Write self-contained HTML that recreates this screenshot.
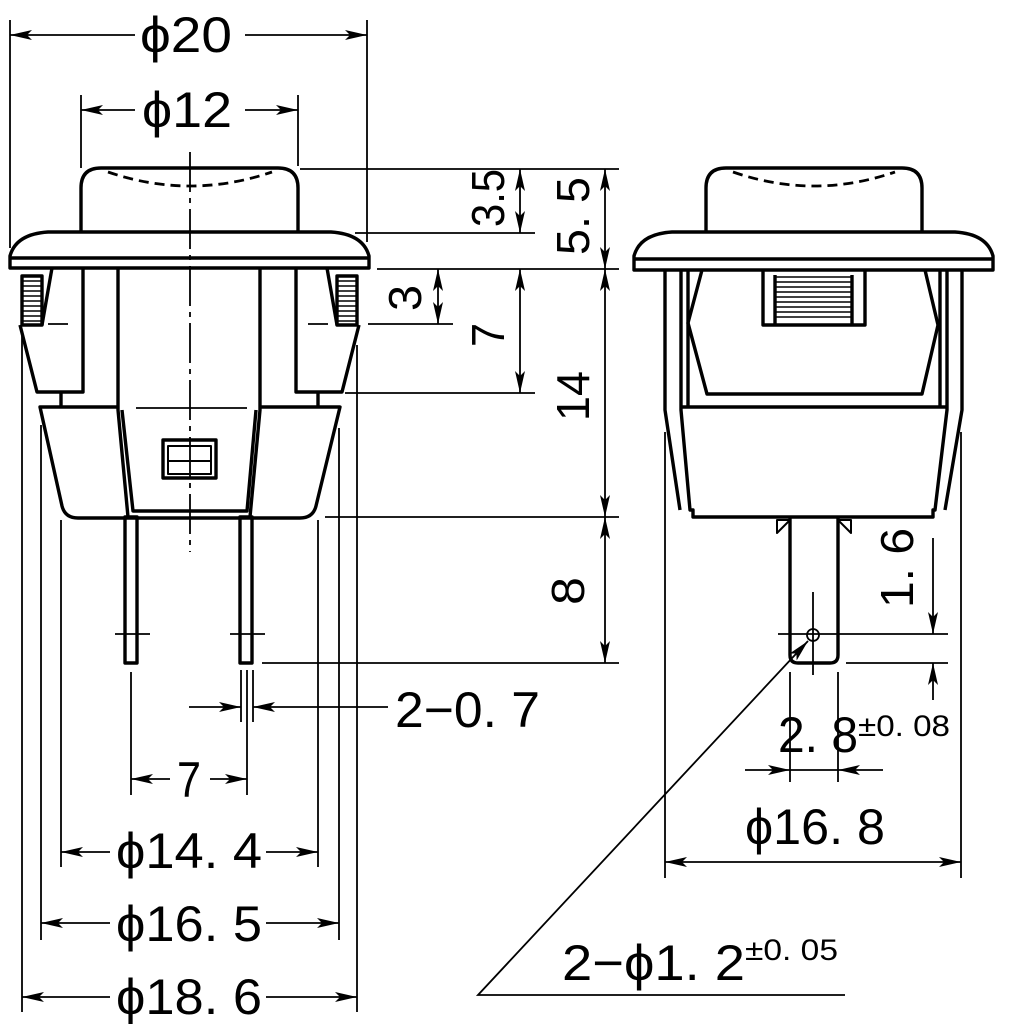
<!DOCTYPE html>
<html><head><meta charset="utf-8"><style>
html,body{margin:0;padding:0;background:#fff}
svg{display:block}
text{font-family:"Liberation Sans",sans-serif;fill:#000}
</style></head><body>
<svg width="1009" height="1024" viewBox="0 0 1009 1024" xmlns="http://www.w3.org/2000/svg">
<defs>
<marker id="a" markerUnits="userSpaceOnUse" markerWidth="24" markerHeight="12" refX="22" refY="5" orient="auto-start-reverse"><path d="M0,0 L22,5 L0,10 L5,5 Z" fill="#000"/></marker>
</defs>
<g fill="none" stroke="#000" stroke-width="3.4" stroke-linejoin="round">
<path d="M81,232 V188 Q81,168 101,168 H278 Q298,168 298,188 V232"/>
<path d="M108,172 Q190,200 272,172" stroke-dasharray="10,6" stroke-width="2.8"/>
<path d="M10,268 V256 Q16,234 48,232 H331 Q363,234 369,256 V268 Z"/>
<line x1="10" y1="258" x2="369" y2="258"/>
<rect x="22" y="276" width="20" height="49"/>
<line x1="52" y1="268" x2="42" y2="325"/>
<polyline points="20,325 37,392 83,392 83,268"/>
<line x1="61" y1="392" x2="61" y2="407"/>
<rect x="337" y="276" width="20" height="49"/>
<line x1="327" y1="268" x2="337" y2="325"/>
<polyline points="359,325 342,392 296,392 296,268"/>
<line x1="318" y1="392" x2="318" y2="407"/>
<polyline points="118,268 118,410 128,517"/>
<polyline points="122,410 133,511 247,511 256,410"/>
<polyline points="260,268 260,410 250,517"/>
<path d="M118,407 H40 L62,506 Q65,518 78,518 H300 Q313,518 316,506 L340,407 H260"/>
<rect x="163" y="440" width="53" height="38"/>
<rect x="168" y="446" width="43" height="28" stroke-width="2"/>
<line x1="168" y1="461" x2="211" y2="461" stroke-width="2"/>
<rect x="125" y="517" width="12" height="146"/>
<rect x="240" y="517" width="12" height="146"/>
<path d="M706,232 V188 Q706,168 726,168 H902 Q922,168 922,188 V232"/>
<path d="M733,172 Q814,200 895,172" stroke-dasharray="10,6" stroke-width="2.8"/>
<path d="M634,270 V256 Q640,234 672,232 H955 Q987,234 993,256 V270 Z"/>
<line x1="634" y1="259" x2="993" y2="259"/>
<polyline points="665,270 665,410 680,510"/>
<polyline points="681,270 681,410 690,510 693,510 693,517 933,517 933,510 935,510 947,410 947,270"/>
<line x1="688" y1="270" x2="688" y2="407"/>
<line x1="940" y1="270" x2="940" y2="407"/>
<polyline points="962,270 962,410 945,510"/>
<line x1="681" y1="407" x2="947" y2="407"/>
<polyline points="702,270 688,323 707,394 922,394 938,325 925,270"/>
<polyline points="763,270 763,325 865,325 865,270"/>
<line x1="775" y1="275" x2="775" y2="325"/>
<line x1="852" y1="275" x2="852" y2="325"/>
<path d="M790,517 V655 Q790,663 798,663 H830 Q838,663 838,655 V517"/>
<path d="M777,520 L790,520 L777,533 Z M851,520 L838,520 L851,533 Z" stroke-width="2"/>
</g>
<g stroke="#000" stroke-width="1.6">
<line x1="22" y1="281" x2="42" y2="281"/><line x1="22" y1="286" x2="42" y2="286"/><line x1="22" y1="291" x2="42" y2="291"/><line x1="22" y1="296" x2="42" y2="296"/><line x1="22" y1="301" x2="42" y2="301"/><line x1="22" y1="306" x2="42" y2="306"/><line x1="22" y1="311" x2="42" y2="311"/><line x1="22" y1="316" x2="42" y2="316"/><line x1="22" y1="321" x2="42" y2="321"/>
<line x1="337" y1="281" x2="357" y2="281"/><line x1="337" y1="286" x2="357" y2="286"/><line x1="337" y1="291" x2="357" y2="291"/><line x1="337" y1="296" x2="357" y2="296"/><line x1="337" y1="301" x2="357" y2="301"/><line x1="337" y1="306" x2="357" y2="306"/><line x1="337" y1="311" x2="357" y2="311"/><line x1="337" y1="316" x2="357" y2="316"/><line x1="337" y1="321" x2="357" y2="321"/>
<line x1="775" y1="277" x2="852" y2="277"/><line x1="775" y1="282" x2="852" y2="282"/><line x1="775" y1="287" x2="852" y2="287"/><line x1="775" y1="292" x2="852" y2="292"/><line x1="775" y1="297" x2="852" y2="297"/><line x1="775" y1="302" x2="852" y2="302"/><line x1="775" y1="307" x2="852" y2="307"/><line x1="775" y1="312" x2="852" y2="312"/><line x1="775" y1="317" x2="852" y2="317"/>
</g>
<g fill="none" stroke="#000" stroke-width="1.8">
<line x1="190" y1="152" x2="190" y2="552" stroke-dasharray="40,6,5,6"/>
<line x1="136" y1="408" x2="247" y2="408"/>
<line x1="48" y1="324" x2="68" y2="324"/><line x1="308" y1="324" x2="328" y2="324"/>
<line x1="115" y1="634" x2="150" y2="634"/><line x1="230" y1="634" x2="265" y2="634"/>
<line x1="10" y1="20" x2="10" y2="248"/><line x1="367" y1="20" x2="367" y2="242"/>
<line x1="81" y1="95" x2="81" y2="168"/><line x1="298" y1="95" x2="298" y2="166"/>
<line x1="300" y1="169" x2="619" y2="169"/>
<line x1="355" y1="233" x2="535" y2="233"/>
<line x1="377" y1="269" x2="619" y2="269"/>
<line x1="368" y1="324" x2="453" y2="324"/>
<line x1="345" y1="393" x2="535" y2="393"/>
<line x1="325" y1="517" x2="619" y2="517"/>
<line x1="262" y1="663" x2="619" y2="663"/>
<line x1="22" y1="335" x2="22" y2="1012"/><line x1="357" y1="345" x2="357" y2="1012"/>
<line x1="41" y1="425" x2="41" y2="940"/><line x1="339" y1="428" x2="339" y2="940"/>
<line x1="61" y1="520" x2="61" y2="867"/><line x1="318" y1="520" x2="318" y2="867"/>
<line x1="131" y1="672" x2="131" y2="795"/>
<line x1="241" y1="670" x2="241" y2="722"/><line x1="247" y1="670" x2="247" y2="795"/><line x1="253" y1="670" x2="253" y2="722"/>
<line x1="135" y1="35" x2="10" y2="35" marker-end="url(#a)"/><line x1="245" y1="35" x2="367" y2="35" marker-end="url(#a)"/>
<line x1="135" y1="110" x2="81" y2="110" marker-end="url(#a)"/><line x1="245" y1="110" x2="298" y2="110" marker-end="url(#a)"/>
<line x1="520" y1="169" x2="520" y2="233" marker-start="url(#a)" marker-end="url(#a)"/>
<line x1="605" y1="169" x2="605" y2="269" marker-start="url(#a)" marker-end="url(#a)"/>
<line x1="438" y1="269" x2="438" y2="324" marker-start="url(#a)" marker-end="url(#a)"/>
<line x1="520" y1="269" x2="520" y2="393" marker-start="url(#a)" marker-end="url(#a)"/>
<line x1="605" y1="269" x2="605" y2="517" marker-start="url(#a)" marker-end="url(#a)"/>
<line x1="605" y1="517" x2="605" y2="663" marker-start="url(#a)" marker-end="url(#a)"/>
<line x1="189" y1="707" x2="241" y2="707" marker-end="url(#a)"/><line x1="388" y1="707" x2="253" y2="707" marker-end="url(#a)"/>
<line x1="170" y1="779" x2="131" y2="779" marker-end="url(#a)"/><line x1="210" y1="779" x2="247" y2="779" marker-end="url(#a)"/>
<line x1="110" y1="852" x2="61" y2="852" marker-end="url(#a)"/><line x1="266" y1="852" x2="318" y2="852" marker-end="url(#a)"/>
<line x1="110" y1="923" x2="41" y2="923" marker-end="url(#a)"/><line x1="266" y1="923" x2="339" y2="923" marker-end="url(#a)"/>
<line x1="110" y1="997" x2="22" y2="997" marker-end="url(#a)"/><line x1="266" y1="997" x2="357" y2="997" marker-end="url(#a)"/>
<line x1="665" y1="432" x2="665" y2="878"/><line x1="961" y1="432" x2="961" y2="878"/>
<line x1="665" y1="862" x2="961" y2="862" marker-start="url(#a)" marker-end="url(#a)"/>
<line x1="790" y1="672" x2="790" y2="782"/><line x1="838" y1="672" x2="838" y2="782"/>
<line x1="745" y1="770" x2="790" y2="770" marker-end="url(#a)"/><line x1="790" y1="770" x2="838" y2="770"/><line x1="883" y1="770" x2="838" y2="770" marker-end="url(#a)"/>
<circle cx="813" cy="635" r="6"/>
<line x1="813" y1="592" x2="813" y2="675"/>
<line x1="778" y1="634" x2="948" y2="634"/>
<line x1="846" y1="663" x2="948" y2="663"/>
<line x1="933" y1="538" x2="933" y2="634" marker-end="url(#a)"/>
<line x1="933" y1="700" x2="933" y2="663" marker-end="url(#a)"/>
<polyline points="845,995 478,995 808,641" marker-end="url(#a)"/>
</g>
<g font-size="50">
<text x="140" y="52" textLength="92" lengthAdjust="spacingAndGlyphs">ϕ20</text>
<text x="142" y="127" textLength="90" lengthAdjust="spacingAndGlyphs">ϕ12</text>
<text transform="translate(504,198) rotate(-90)" text-anchor="middle" font-size="46" textLength="58" lengthAdjust="spacingAndGlyphs">3.5</text>
<text transform="translate(589,216) rotate(-90)" text-anchor="middle" font-size="46" textLength="78" lengthAdjust="spacingAndGlyphs">5. 5</text>
<text transform="translate(421,298) rotate(-90)" text-anchor="middle" font-size="46" textLength="26" lengthAdjust="spacingAndGlyphs">3</text>
<text transform="translate(504,335) rotate(-90)" text-anchor="middle" font-size="46" textLength="24" lengthAdjust="spacingAndGlyphs">7</text>
<text transform="translate(589,396) rotate(-90)" text-anchor="middle" font-size="46" textLength="50" lengthAdjust="spacingAndGlyphs">14</text>
<text transform="translate(584,591) rotate(-90)" text-anchor="middle" font-size="46" textLength="28" lengthAdjust="spacingAndGlyphs">8</text>
<text transform="translate(913,568) rotate(-90)" text-anchor="middle" font-size="46" textLength="80" lengthAdjust="spacingAndGlyphs">1. 6</text>
<text x="395" y="727" textLength="145" lengthAdjust="spacingAndGlyphs">2−0. 7</text>
<text x="177" y="797" textLength="24" lengthAdjust="spacingAndGlyphs">7</text>
<text x="116" y="868" textLength="146" lengthAdjust="spacingAndGlyphs">ϕ14. 4</text>
<text x="116" y="941" textLength="146" lengthAdjust="spacingAndGlyphs">ϕ16. 5</text>
<text x="116" y="1014" textLength="146" lengthAdjust="spacingAndGlyphs">ϕ18. 6</text>
<text x="778" y="752" textLength="80" lengthAdjust="spacingAndGlyphs">2. 8</text>
<text x="858" y="736" font-size="30" textLength="92" lengthAdjust="spacingAndGlyphs">±0. 08</text>
<text x="745" y="844" textLength="140" lengthAdjust="spacingAndGlyphs">ϕ16. 8</text>
<text x="562" y="980" textLength="183" lengthAdjust="spacingAndGlyphs">2−ϕ1. 2</text>
<text x="745" y="960" font-size="30" textLength="93" lengthAdjust="spacingAndGlyphs">±0. 05</text>
</g>
</svg>
</body></html>
